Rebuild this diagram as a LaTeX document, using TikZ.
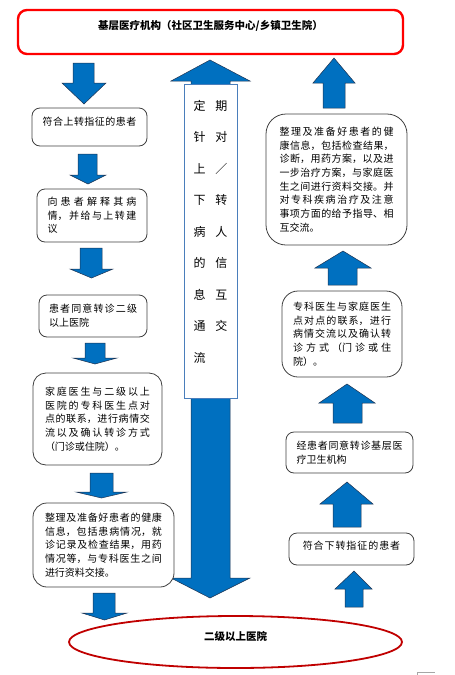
\documentclass[tikz,border=0pt]{standalone}
\usepackage{fontspec}
\setmainfont{Noto Sans CJK SC}
\usetikzlibrary{shapes.geometric}
\XeTeXlinebreaklocale "zh"
\XeTeXlinebreakskip=0pt plus 3pt
\tolerance=10000
\definecolor{arrowblue}{RGB}{0,112,192}
\definecolor{arrowedge}{RGB}{30,50,80}
\definecolor{darkred}{RGB}{192,0,0}
\definecolor{msgblue}{RGB}{74,126,187}

\begin{document}
\begin{tikzpicture}[x=1pt,y=-1pt,
  infobox/.style={draw=black!75,line width=0.8pt,rounded corners=8pt,fill=white,inner sep=0pt,align=justify,font=\fontsize{10}{13.7}\selectfont},
  blockarrow/.style={fill=arrowblue,draw=arrowedge,line width=0.5pt}]
\useasboundingbox (0,0) rectangle (455,675);
\filldraw[blockarrow] (73,63) -- (94,63) -- (94,83) -- (106,83) -- (84,104) -- (62,83) -- (73,83) -- cycle;
\filldraw[blockarrow] (78,154) -- (97,154) -- (97,175) -- (106,175) -- (88,184) -- (70,175) -- (78,175) -- cycle;
\filldraw[blockarrow] (80,248) -- (102,248) -- (102,269) -- (113,269) -- (91.5,278) -- (70,269) -- (80,269) -- cycle;
\filldraw[blockarrow] (85,343) -- (105,343) -- (105,358) -- (117,358) -- (95,364) -- (73,358) -- (85,358) -- cycle;
\filldraw[blockarrow] (90,473) -- (113,473) -- (113,492) -- (127,492) -- (101.5,498) -- (76,492) -- (90,492) -- cycle;
\filldraw[blockarrow] (93,593) -- (115,593) -- (115,613) -- (127,613) -- (104.5,620) -- (82,613) -- (93,613) -- cycle;
\filldraw[blockarrow] (323,108) -- (323,83) -- (313,83) -- (334,58) -- (355,83) -- (345,83) -- (345,108) -- cycle;
\filldraw[blockarrow] (328,285) -- (328,268) -- (315,268) -- (343,251) -- (371,268) -- (357,268) -- (357,285) -- cycle;
\filldraw[blockarrow] (333,423) -- (333,403) -- (319,403) -- (347,384) -- (375,403) -- (362,403) -- (362,423) -- cycle;
\filldraw[blockarrow] (333,527) -- (333,504) -- (320,504) -- (347,482) -- (373,504) -- (361,504) -- (361,527) -- cycle;
\filldraw[blockarrow] (345,607) -- (345,589) -- (335,589) -- (354,571) -- (372,589) -- (363,589) -- (363,607) -- cycle;
\filldraw[blockarrow] (210,60) -- (250,81) -- (230,81) -- (230,578) -- (250,578) -- (210,598) -- (171,578) -- (191,578) -- (191,81) -- (171,81) -- cycle;
\node[draw=msgblue,line width=0.8pt,fill=white,anchor=north,text width=34pt,inner xsep=9.5pt,inner ysep=16pt,text height=10pt,text depth=272pt,align=left,font=\fontsize{12}{31.5}\selectfont] (msgbox) at (210.5,84) {定\hfill 期\\针\hfill 对\\上\hfill ／\\下\hfill 转\\病\hfill 人\\的\hfill 信\\息\hfill 互\\通\hfill 交\\流};
\node[draw=red,line width=2.4pt,rounded corners=9pt,minimum width=385pt,minimum height=44pt,text depth=14pt,font=\bfseries\fontsize{10.5}{13}\selectfont] (hospA) at (210.5,32) {基层医疗机构（社区卫生服务中心/乡镇卫生院）};
\node[ellipse,draw=darkred,line width=1.8pt,minimum width=333pt,minimum height=52pt,inner sep=0pt,text depth=12pt,font=\bfseries\fontsize{10.5}{13}\selectfont] (hospB) at (235.5,642) {二级以上医院};
\node[infobox,minimum width=115pt,minimum height=38pt,text width=100pt,align=center,text depth=12pt] (upA) at (89.5,127) {符合上转指征的患者};
\node[infobox,minimum width=110pt,minimum height=53pt,text width=89pt] (upB) at (92,215.5) {向患者解释其病\linebreak 情，并给与上转建\linebreak 议};
\node[infobox,minimum width=108pt,minimum height=42pt,text width=88pt] (upC) at (93,316) {患者同意转诊二级\linebreak 以上医院};
\node[infobox,rounded corners=13pt,minimum width=129pt,minimum height=92pt,text width=105pt] (upD) at (97.5,419) {家庭医生与二级以上\linebreak 医院的专科医生点对\linebreak 点的联系，进行病情交\linebreak 流以及确认转诊方式\linebreak （门诊或住院）。};
\node[infobox,rounded corners=14pt,minimum width=141pt,minimum height=84pt,text width=117pt] (upE) at (103.5,545) {整理及准备好患者的健康\linebreak 信息，包括患病情况，就\linebreak 诊记录及检查结果，用药\linebreak 情况等，与专科医生之间\linebreak 进行资料交接。};
\node[infobox,rounded corners=20pt,minimum width=141pt,minimum height=131pt,text width=114pt] (downA) at (336.5,179.5) {整理及准备好患者的健\linebreak 康信息，包括检查结果，\linebreak 诊断，用药方案，以及进\linebreak 一步治疗方案，与家庭医\linebreak 生之间进行资料交接。并\linebreak 对专科疾病治疗及注意\linebreak 事项方面的给予指导、相\linebreak 互交流。};
\node[infobox,rounded corners=16pt,minimum width=120pt,minimum height=86pt,text width=98pt] (downB) at (342,334) {专科医生与家庭医生\linebreak 点对点的联系，进行\linebreak 病情交流以及确认转\linebreak 诊方式（门诊或住\linebreak 院）。};
\node[infobox,minimum width=127pt,minimum height=41pt,text width=106pt] (downC) at (349.5,452.5) {经患者同意转诊基层医\linebreak 疗卫生机构};
\node[infobox,minimum width=125pt,minimum height=32pt,text width=110pt,align=center,text depth=8pt] (downD) at (351.5,549) {符合下转指征的患者};
\draw[black!35,line width=0.6pt] (417,675) -- (417,672) -- (435,672);
\end{tikzpicture}
\end{document}
